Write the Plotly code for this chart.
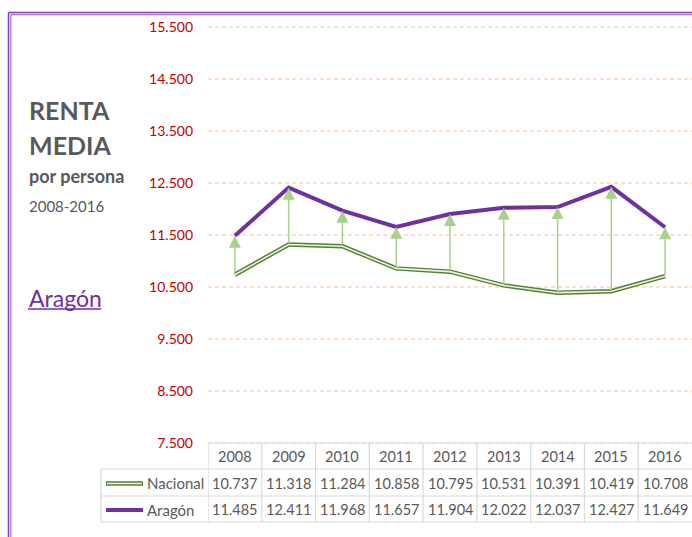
import plotly.graph_objects as go

years = ["2008", "2009", "2010", "2011", "2012", "2013", "2014", "2015", "2016"]
nacional = [10737, 11318, 11284, 10858, 10795, 10531, 10391, 10419, 10708]
aragon = [11485, 12411, 11968, 11657, 11904, 12022, 12037, 12427, 11649]
series_names = ["Nacional", "Aragón"]
y_ticks = [7500, 8500, 9500, 10500, 11500, 12500, 13500, 14500, 15500]

# body margin is removed by the post script, so figure pixels = reference pixels
W, H = 692, 537
PLOT_L, PLOT_R, PLOT_T, PLOT_B = 208, 692, 25, 445  # pixel coords
L, R, T, B = PLOT_L, W - PLOT_R, PLOT_T, H - PLOT_B
PW, PH = W - L - R, H - T - B
PX_PER_UNIT = 52 / 1000.0
y_top = 15500 + (27 - PLOT_T) / PX_PER_UNIT
y_bot = 7500 - (PLOT_B - 443) / PX_PER_UNIT

def px(xpix):
    return (xpix - PLOT_L) / PW

def py(ypix):
    return (PLOT_B - ypix) / PH

FONT = "Lato"
GRAY = "#595959"
PURPLE = "#7030A0"
GREEN_D = "#548235"
GREEN_L = "#A9D18E"
TABLE_LINE = "#D9D9D9"

def fmt(v):
    return f"{v:,}".replace(",", ".")

fig = go.Figure()
fig.add_trace(go.Scatter(x=years, y=nacional, mode="lines",
                         line=dict(color=GREEN_D, width=4.5), showlegend=False, hoverinfo="skip"))
fig.add_trace(go.Scatter(x=years, y=nacional, mode="lines", name=series_names[0],
                         line=dict(color="#EAF3E3", width=1.6), showlegend=False))
fig.add_trace(go.Scatter(x=years, y=aragon, mode="lines", name=series_names[1],
                         line=dict(color=PURPLE, width=4), showlegend=False))

annotations = []
shapes = []

for i in range(len(years)):
    annotations.append(dict(x=i, y=aragon[i], ax=i, ay=nacional[i], xref="x", yref="y",
                            axref="x", ayref="y", showarrow=True, arrowhead=2, arrowsize=1.6,
                            arrowwidth=1.5, arrowcolor=GREEN_L, text=""))

rows_y = [443, 469, 496, 522]
tbl_left = 101
shapes.append(dict(type="line", xref="paper", yref="paper", x0=0, x1=1.05, y0=py(rows_y[0]), y1=py(rows_y[0]),
                   line=dict(color=TABLE_LINE, width=1.2)))
for yy in rows_y[1:]:
    shapes.append(dict(type="line", xref="paper", yref="paper", x0=px(tbl_left), x1=1.05, y0=py(yy), y1=py(yy),
                       line=dict(color=TABLE_LINE, width=1.2)))
shapes.append(dict(type="line", xref="paper", yref="paper", x0=px(tbl_left), x1=px(tbl_left),
                   y0=py(rows_y[1]), y1=py(rows_y[3]), line=dict(color=TABLE_LINE, width=1.2)))
for i in range(len(years)):
    shapes.append(dict(type="line", xref="x", yref="paper", x0=i - 0.5, x1=i - 0.5,
                       y0=py(rows_y[0]), y1=py(rows_y[3]), line=dict(color=TABLE_LINE, width=1.2)))

cell_font = dict(family=FONT, size=14.5, color=GRAY)
for i, yr in enumerate(years):
    annotations.append(dict(x=i, y=py((rows_y[0] + rows_y[1]) / 2 + 1), xref="x", yref="paper", text=yr,
                            xanchor="center", yanchor="middle", showarrow=False, font=cell_font))
    annotations.append(dict(x=i, y=py((rows_y[1] + rows_y[2]) / 2 + 1), xref="x", yref="paper",
                            text=fmt(nacional[i]), xanchor="center", yanchor="middle",
                            showarrow=False, font=cell_font))
    annotations.append(dict(x=i, y=py((rows_y[2] + rows_y[3]) / 2 + 1), xref="x", yref="paper",
                            text=fmt(aragon[i]), xanchor="center", yanchor="middle",
                            showarrow=False, font=cell_font))

ky1 = py((rows_y[1] + rows_y[2]) / 2 + 1)
ky2 = py((rows_y[2] + rows_y[3]) / 2 + 1)
shapes.append(dict(type="line", xref="paper", yref="paper", x0=px(106), x1=px(143), y0=ky1, y1=ky1,
                   line=dict(color=GREEN_D, width=4.5)))
shapes.append(dict(type="line", xref="paper", yref="paper", x0=px(107), x1=px(142), y0=ky1, y1=ky1,
                   line=dict(color="#EAF3E3", width=1.6)))
shapes.append(dict(type="line", xref="paper", yref="paper", x0=px(106), x1=px(143), y0=ky2, y1=ky2,
                   line=dict(color=PURPLE, width=4)))
label_font = dict(family=FONT, size=15, color=GRAY)
annotations.append(dict(x=px(145), y=ky1, xref="paper", yref="paper", xanchor="left", yanchor="middle",
                        text=series_names[0], showarrow=False, font=label_font))
annotations.append(dict(x=px(145), y=ky2, xref="paper", yref="paper", xanchor="left", yanchor="middle",
                        text=series_names[1], showarrow=False, font=label_font))

tx = px(27)
annotations += [
    dict(x=tx, y=py(110), xref="paper", yref="paper", xanchor="left", yanchor="middle", text="<b>RENTA</b>",
         showarrow=False, font=dict(family=FONT, size=25, color=GRAY)),
    dict(x=tx, y=py(145), xref="paper", yref="paper", xanchor="left", yanchor="middle", text="<b>MEDIA</b>",
         showarrow=False, font=dict(family=FONT, size=25, color=GRAY)),
    dict(x=tx, y=py(176), xref="paper", yref="paper", xanchor="left", yanchor="middle", text="<b>por persona</b>",
         showarrow=False, font=dict(family=FONT, size=18, color=GRAY)),
    dict(x=tx, y=py(206), xref="paper", yref="paper", xanchor="left", yanchor="middle", text="2008-2016",
         showarrow=False, font=dict(family=FONT, size=15, color=GRAY)),
    dict(x=tx, y=py(298), xref="paper", yref="paper", xanchor="left", yanchor="middle", text="Aragón",
         showarrow=False, font=dict(family=FONT, size=23, color=PURPLE)),
]
shapes.append(dict(type="line", xref="paper", yref="paper", x0=px(28), x1=px(101), y0=py(309), y1=py(309),
                   line=dict(color=PURPLE, width=1.5)))

shapes += [
    dict(type="line", xref="paper", yref="paper", x0=px(8.5), x1=px(8.5), y0=py(12.5), y1=py(560),
         line=dict(color="#8040B0", width=1.5)),
    dict(type="line", xref="paper", yref="paper", x0=px(10.8), x1=px(10.8), y0=py(14.5), y1=py(560),
         line=dict(color="#A878D0", width=1.3)),
    dict(type="line", xref="paper", yref="paper", x0=px(8.5), x1=px(720), y0=py(12.5), y1=py(12.5),
         line=dict(color="#8040B0", width=1.5)),
    dict(type="line", xref="paper", yref="paper", x0=px(10.8), x1=px(720), y0=py(14.5), y1=py(14.5),
         line=dict(color="#A878D0", width=1.3)),
]

fig.update_layout(
    width=W, height=H,
    margin=dict(l=L, r=R, t=T, b=B, pad=0),
    paper_bgcolor="white", plot_bgcolor="white",
    separators=",.",
    showlegend=False,
    hovermode=False,
    annotations=annotations,
    shapes=shapes,
    xaxis=dict(type="category", range=[-0.5, len(years) - 0.5], showticklabels=False, showgrid=False,
               zeroline=False, showline=False, fixedrange=True),
    yaxis=dict(range=[y_bot, y_top], tickvals=y_ticks, tickformat=",d", showgrid=True,
               gridcolor="#FBE0CE", gridwidth=1.6, griddash="4px,3px", zeroline=False, showline=False,
               ticklabelstandoff=14, tickfont=dict(family=FONT, size=14, color="#C00000")),
)

fig.write_html("out.html",
               config={"displayModeBar": False},
               post_script="document.body.style.margin='0';"
                           "document.documentElement.style.overflow='hidden';"
                           "document.body.style.overflow='hidden';")
